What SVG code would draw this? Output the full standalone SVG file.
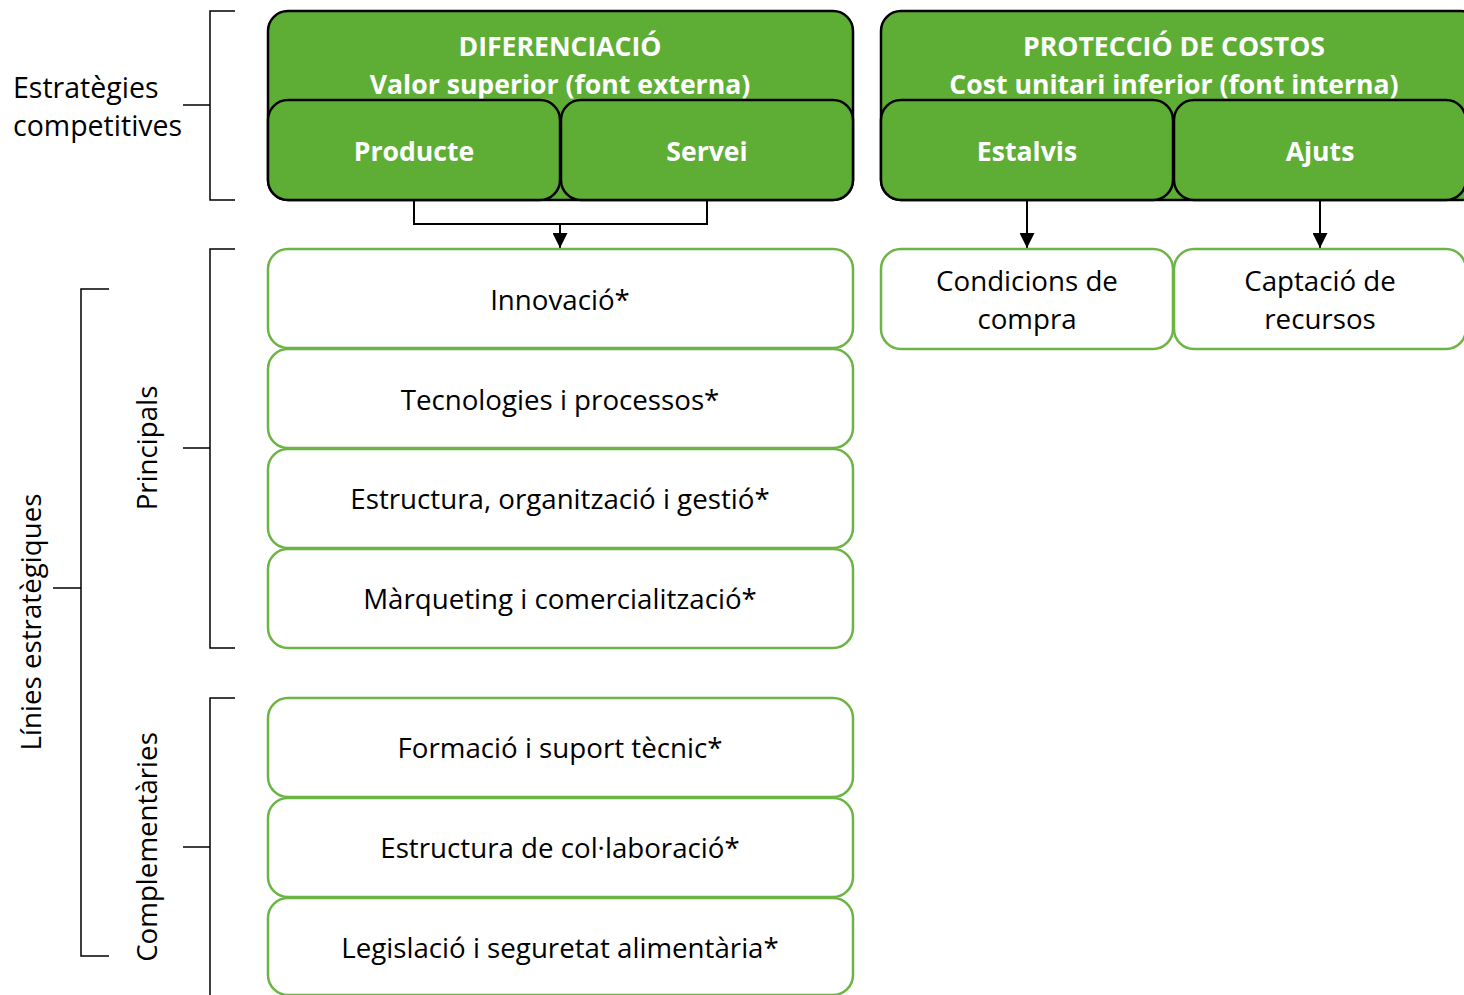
<svg xmlns="http://www.w3.org/2000/svg" width="1464" height="995" viewBox="0 0 1464 995">
<defs>
<marker id="arr" markerWidth="15" markerHeight="15" refX="15" refY="7.5" orient="auto" markerUnits="userSpaceOnUse" viewBox="0 0 15 15">
<path d="M0,0 L15,7.5 L0,15 Z" fill="#000"/>
</marker>
<style>
.g{fill:#5EAE36;stroke:#000;stroke-width:2.5}
.w{fill:#fff;stroke:#6CB545;stroke-width:2.5}
.ht{font-family:"Open Sans","Lato",sans-serif;font-weight:bold;font-size:26.6px;fill:#fff;text-anchor:middle}
.t{font-family:"Open Sans","Lato",sans-serif;font-size:27.7px;fill:#000;text-anchor:middle}
.l{font-family:"Open Sans","Lato",sans-serif;font-size:28.5px;fill:#000}
.br{fill:none;stroke:#000;stroke-width:1.5}
.c{fill:none;stroke:#000;stroke-width:2}
</style>
</defs>
<rect width="1464" height="995" fill="#fff"/>

<g id="brackets">
<path class="br" d="M235,11 H210 V200 H235 M183,105 H210"/>
<path class="br" d="M235,249 H210 V648 H235 M183,448 H210"/>
<path class="br" d="M235,698 H210 V995 M183,847 H210"/>
<path class="br" d="M109,289 H81 V956 H109 M53,588 H81"/>
</g>

<g id="labels">
<text class="l" x="13" y="98">Estratègies</text>
<text class="l" x="13" y="136">competitives</text>
<text class="t" transform="translate(41,622) rotate(-90)">Línies estratègiques</text>
<text class="t" transform="translate(157,448) rotate(-90)">Principals</text>
<text class="t" transform="translate(157,847) rotate(-90)">Complementàries</text>
</g>

<g id="diferenciacio">
<rect class="g" x="268" y="11" width="585" height="189" rx="20"/>
<text class="ht" x="560" y="56">DIFERENCIACIÓ</text>
<text class="ht" x="560" y="94">Valor superior (font externa)</text>
</g>
<g id="producte">
<rect class="g" x="268" y="100" width="292" height="100" rx="20"/>
<text class="ht" x="414" y="161">Producte</text>
</g>
<g id="servei">
<rect class="g" x="561" y="100" width="292" height="100" rx="20"/>
<text class="ht" x="707" y="161">Servei</text>
</g>

<g id="proteccio">
<rect class="g" x="881" y="11" width="600" height="189" rx="20"/>
<text class="ht" x="1174" y="56">PROTECCIÓ DE COSTOS</text>
<text class="ht" x="1174" y="94">Cost unitari inferior (font interna)</text>
</g>
<g id="estalvis">
<rect class="g" x="881" y="100" width="292" height="100" rx="20"/>
<text class="ht" x="1027" y="161">Estalvis</text>
</g>
<g id="ajuts">
<rect class="g" x="1174" y="100" width="292" height="100" rx="20"/>
<text class="ht" x="1320" y="161">Ajuts</text>
</g>

<g id="connectors">
<path class="c" d="M414,200 V224 H707 V200"/>
<path class="c" d="M560,224 V248" marker-end="url(#arr)"/>
<path class="c" d="M1027,200 V248" marker-end="url(#arr)"/>
<path class="c" d="M1320,200 V248" marker-end="url(#arr)"/>
</g>

<g id="innovacio"><rect class="w" x="268" y="249" width="585" height="99" rx="20"/><text class="t" x="560" y="310">Innovació*</text></g>
<g id="tecnologies"><rect class="w" x="268" y="349" width="585" height="99" rx="20"/><text class="t" x="560" y="410">Tecnologies i processos*</text></g>
<g id="estructura"><rect class="w" x="268" y="449" width="585" height="99" rx="20"/><text class="t" x="560" y="509">Estructura, organització i gestió*</text></g>
<g id="marqueting"><rect class="w" x="268" y="549" width="585" height="99" rx="20"/><text class="t" x="560" y="609">Màrqueting i comercialització*</text></g>
<g id="formacio"><rect class="w" x="268" y="698" width="585" height="99" rx="20"/><text class="t" x="560" y="758">Formació i suport tècnic*</text></g>
<g id="collaboracio"><rect class="w" x="268" y="798" width="585" height="99" rx="20"/><text class="t" x="560" y="858">Estructura de col·laboració*</text></g>
<g id="legislacio"><rect class="w" x="268" y="898" width="585" height="97" rx="20"/><text class="t" x="560" y="958">Legislació i seguretat alimentària*</text></g>

<g id="condicions"><rect class="w" x="881" y="249" width="292" height="100" rx="20"/><text class="t" x="1027" y="291">Condicions de</text><text class="t" x="1027" y="329">compra</text></g>
<g id="captacio"><rect class="w" x="1174" y="249" width="292" height="100" rx="20"/><text class="t" x="1320" y="291">Captació de</text><text class="t" x="1320" y="329">recursos</text></g>
</svg>
